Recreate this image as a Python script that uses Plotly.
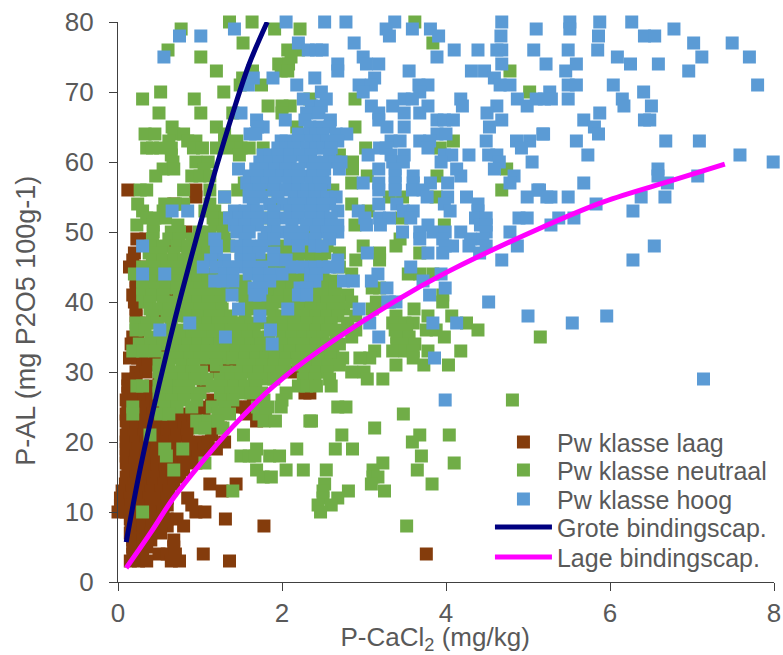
import plotly.graph_objects as go

brown_rows = {
56: [0.12, 0.95], 55: [0.95], 54: [0.68], 50: [0.83],
49: [0.23, 0.34], 48: [0.65], 47: [0.2], 46: [0.5, 0.72, 0.18], 45: [0.14, 0.2, 0.3, 0.5],
44: [0.73, 0.66], 43: [0.22], 42: [0.22], 41: [0.18, 0.62], 40: [0.22, 0.2], 39: [0.22, 0.57], 38: [0.22, 0.5],
37: [0.26], 36: [0.32], 35: [0.18, 0.24], 34: [0.16], 33: [0.58], 32: [0.14, 0.24, 0.33, 0.45, 0.53],
31: [0.3, 0.37, 1.08, 1.34, 1.46, 1.1], 30: [0.22, 0.34, 2.15, 1.2], 29: [0.12, 0.22, 0.5], 28: [0.12, 1.04, 0.4],
27: [0.12, 0.22, 0.33, 0.42, 2.28, 2.34], 26: [0.1, 0.2, 0.32, 0.42, 1.14, 1.65], 25: [0.12, 0.22, 0.36, 0.46, 1.04, 1.44, 1.55, 1.6],
24: [0.1, 0.2, 0.33, 0.43, 0.55, 0.65, 0.75, 0.9, 1.05, 1.57], 23: [0.1, 0.22, 0.3, 0.45, 0.55, 0.7, 0.8, 0.92, 1.69],
22: [0.12, 0.22, 0.33, 0.45, 0.6, 0.7, 0.8, 0.85, 1.14, 1.25], 21: [0.1, 0.2, 0.32, 0.48, 0.6, 0.72, 0.84, 1.14],
20: [0.1, 0.22, 0.34, 0.46, 0.58, 0.7, 0.86, 1.0, 1.1, 1.3], 19: [0.1, 0.24, 0.35, 0.48, 0.6, 0.75, 0.9, 1.05, 1.2],
18: [0.1, 0.22, 0.34, 0.46, 0.58, 0.72, 0.85, 0.98], 17: [0.1, 0.21, 0.36, 0.48, 0.6, 0.7, 0.8, 0.95],
16: [0.12, 0.24, 0.35, 0.47, 0.57, 0.7, 0.8], 15: [0.1, 0.22, 0.33, 0.45, 0.58, 0.66, 0.75],
14: [0.09, 0.2, 0.32, 0.43, 0.56, 0.68, 1.12, 1.44], 13: [0.05, 0.17, 0.28, 0.4, 0.52, 0.62, 1.27],
12: [0.03, 0.15, 0.26, 0.38, 0.5, 0.6, 0.85], 11: [0.03, 0.16, 0.27, 0.4, 0.5, 0.6, 0.9],
10: [0.0, 0.1, 0.22, 0.38, 0.46, 0.55, 0.95, 1.06], 9: [0.15, 0.27, 0.38, 0.5, 0.6, 0.72, 1.31],
8: [0.16, 0.3, 0.42, 0.52, 0.6, 0.8, 1.78], 7: [0.15, 0.3, 0.4, 0.52], 6: [0.18, 0.3, 0.4, 0.68],
5: [0.18, 0.3, 0.35, 0.68], 4: [0.18, 0.3, 0.5, 0.6, 0.7, 1.04, 3.76], 3: [0.15, 0.25, 0.35, 0.65, 0.75, 1.36],
}

green_rows = {
80: [1.36, 1.635, 3.62], 79: [0.77, 1.91, 2.22], 77: [1.525, 3.84], 76: [0.61, 2.07, 2.2], 75: [1.01, 2.11],
74: [1.96, 2.08], 73: [1.2, 1.64, 1.99, 2.07, 4.78], 72: [1.52], 71: [1.49, 1.75], 70: [0.52, 1.29, 5.02],
69: [0.3, 0.93, 2.89, 2.34], 68: [1.83, 2.1, 2.0], 67: [0.5, 1.01, 1.4, 2.0], 65: [0.66, 1.2, 2.18, 2.89],
64: [0.33, 0.45, 0.68, 0.8, 1.3], 63: [0.62, 0.85, 0.95, 1.3, 1.45, 4.09],
62: [0.35, 0.42, 0.52, 0.65, 0.92, 1.03, 1.2, 1.35, 1.5, 1.6, 1.77, 3.93, 3.02], 61: [0.65, 1.48, 2.7],
60: [0.67, 0.95, 1.1, 2.86], 59: [0.55, 0.68, 1.05, 2.86, 4.74], 58: [0.46, 0.9, 1.0, 1.12, 3.04, 3.89],
57: [1.54, 2.85], 56: [0.27, 0.35, 0.8, 1.12, 1.46, 1.85, 2.62, 4.68], 55: [1.3, 3.31, 3.47, 3.88],
54: [0.24, 0.57, 0.8, 0.7, 2.85, 1.12, 1.95], 53: [0.3, 0.55, 1.06, 1.18, 2.1, 3.05],
52: [0.35, 0.45, 0.58, 1.16, 1.3, 3.46, 1.8], 51: [0.23, 0.43, 0.73, 1.18, 1.3, 1.9, 2.89, 3.98],
50: [0.43, 0.65, 0.75, 0.99, 1.12, 1.28, 2.3], 49: [0.42, 0.62, 0.74, 0.9, 1.05, 1.2, 1.3, 2.4, 3.44],
48: [0.4, 0.55, 0.72, 0.85, 0.95, 1.05, 1.35, 1.9, 2.05, 2.35, 2.55, 2.99, 3.39],
47: [0.38, 0.52, 0.68, 0.85, 1.0, 1.1, 1.95, 2.1, 2.25, 2.4, 2.52, 2.7, 3.19, 3.68],
46: [0.42, 0.55, 0.68, 0.8, 0.95, 1.05, 1.18, 1.75, 2.2, 2.36, 2.48, 3.19, 2.9],
45: [0.3, 0.45, 0.6, 0.75, 0.88, 1.0, 1.9, 2.0, 2.7],
44: [0.2, 0.42, 0.72, 0.85, 0.98, 1.1, 1.2, 2.15, 2.25, 2.5, 2.85, 3.54, 3.68, 3.84],
43: [0.3, 0.42, 0.55, 0.7, 0.85, 0.98, 1.1, 1.55, 2.0, 2.12, 2.25, 2.52, 2.6],
42: [0.3, 0.45, 0.58, 0.72, 0.85, 1.0, 1.14, 1.25, 1.4, 1.55, 1.88, 2.02, 2.12, 2.4, 2.52, 2.65, 3.19, 3.1],
41: [0.3, 0.42, 0.55, 0.75, 0.88, 1.02, 1.15, 1.28, 1.52, 1.85, 1.98, 2.1, 2.4, 2.52, 2.65, 2.8, 3.96],
40: [0.33, 0.39, 0.55, 0.7, 0.85, 0.98, 1.1, 1.25, 1.55, 1.68, 1.8, 1.95, 2.1, 2.25, 2.4, 2.55, 2.7, 2.85, 3.15, 3.96],
39: [0.39, 0.5, 0.62, 0.75, 0.88, 1.0, 1.14, 1.27, 1.6, 1.75, 1.88, 2.2, 2.35, 2.5, 2.62, 2.75, 3.1, 3.61],
38: [0.42, 0.6, 0.72, 0.85, 0.98, 1.12, 1.25, 1.38, 1.55, 1.9, 2.0, 2.15, 2.28, 2.42, 2.55, 2.68, 2.9, 3.39, 3.78, 4.07],
37: [0.22, 0.35, 0.48, 0.65, 0.98, 1.1, 1.22, 1.36, 1.5, 1.62, 1.76, 1.9, 2.02, 2.15, 2.3, 2.45, 2.6, 2.8, 3.35, 3.5, 3.6, 4.25],
36: [0.22, 0.33, 0.62, 0.75, 0.88, 1.0, 1.14, 1.26, 1.38, 1.52, 1.66, 2.0, 2.15, 2.28, 2.42, 2.55, 2.7, 2.9, 3.38, 3.52, 3.76, 3.88, 4.39],
35: [0.4, 0.52, 0.65, 0.78, 0.9, 1.02, 1.16, 1.45, 1.58, 1.72, 1.84, 2.0, 2.12, 2.26, 2.38, 2.5, 2.66, 2.85, 3.4, 3.55, 3.98, 5.15],
34: [0.26, 0.4, 0.55, 0.72, 0.85, 0.98, 1.1, 1.24, 1.36, 1.5, 1.62, 1.74, 2.02, 2.15, 2.28, 2.42, 2.55, 2.7, 3.4, 3.52, 3.62],
33: [0.18, 0.3, 0.45, 0.7, 0.82, 0.95, 1.08, 1.2, 1.32, 1.44, 1.56, 1.7, 1.84, 1.96, 2.1, 2.24, 2.36, 2.5, 2.62, 3.13, 3.35, 3.5, 3.6, 3.78, 4.18],
32: [0.6, 0.75, 0.88, 1.0, 1.15, 1.28, 1.4, 1.55, 1.68, 1.8, 1.92, 2.05, 2.18, 2.3, 2.45, 2.6, 2.74, 3.07, 2.95, 3.6],
31: [0.5, 0.62, 0.78, 0.92, 1.2, 1.52, 1.64, 1.76, 1.9, 2.04, 2.2, 2.32, 2.44, 2.56, 2.7, 3.39, 3.73, 4.03],
30: [0.5, 0.64, 0.78, 0.9, 1.02, 1.32, 1.45, 1.6, 1.72, 1.85, 2.0, 2.28, 2.42, 2.55, 2.85, 3.0],
29: [0.52, 0.66, 0.8, 0.94, 1.08, 1.24, 1.38, 1.5, 1.66, 1.78, 1.9, 2.26, 2.4, 2.58, 3.04, 3.23],
28: [0.23, 0.3, 0.5, 0.62, 0.74, 0.86, 1.15, 1.28, 1.42, 1.55, 1.68, 2.2, 2.3, 2.42, 2.6],
27: [0.5, 0.62, 0.74, 0.86, 1.0, 1.25, 1.38, 1.5, 1.62, 1.75, 2.05],
26: [0.52, 0.66, 0.8, 0.96, 1.28, 1.4, 1.78, 2.0, 4.81],
25: [0.18, 0.58, 0.72, 0.9, 1.15, 1.3, 1.7, 1.83, 1.99, 2.68, 2.78],
24: [0.18, 0.52, 0.62, 1.22, 1.36, 1.72, 1.8, 3.48], 23: [0.96, 1.1, 1.22, 1.78, 1.92, 2.34, 2.36],
22: [1.0, 1.06, 1.28, 3.13], 21: [0.39, 1.53, 2.73, 3.68, 4.04], 20: [3.59],
19: [0.57, 0.79, 1.69, 2.18, 2.65, 2.86], 18: [0.59, 1.5, 1.6, 1.67, 1.85, 1.97, 3.7], 17: [1.06, 3.23, 4.1],
16: [0.68, 1.69, 2.05, 2.26, 2.54, 3.11, 3.65], 15: [1.77, 1.87, 3.11, 3.17], 14: [2.52, 3.09, 3.83],
13: [1.4, 2.5, 2.81, 3.25], 12: [2.5, 2.68], 11: [2.44, 2.6], 10: [0.3, 2.47], 8: [3.52],
}

blue_rows = {
80: [2.05, 2.52, 2.78, 3.375, 4.68, 5.51, 5.875, 6.265],
79: [1.42, 3.27, 3.59, 3.81, 5.1, 5.51, 6.78],
78: [0.75, 1.01, 3.31, 3.91, 4.67, 5.86, 6.42, 6.545],
77: [2.2, 2.88, 7.02, 7.49],
76: [2.32, 2.42, 2.49, 4.1, 4.39, 4.62, 4.68, 5.07, 5.49, 5.85],
75: [0.56, 2.99, 3.89, 6.09, 7.12, 7.7],
74: [2.68, 3.03, 3.18, 4.68, 5.22, 5.59, 6.25, 6.59],
73: [2.68, 3.55, 4.31, 4.47, 5.46, 6.96],
72: [1.65, 1.89, 2.4, 3.13, 4.59],
71: [1.59, 2.18, 2.94, 3.09, 3.67, 3.78, 4.66, 4.78, 5.49, 5.59, 6.04, 7.8],
70: [2.48, 2.99, 3.68, 5.265, 6.41],
69: [2.26, 2.54, 3.49, 3.59, 4.18, 4.87, 5.1, 5.2, 5.285, 5.49, 6.15],
68: [2.36, 2.48, 3.09, 3.35, 3.78, 4.2, 4.62, 4.99, 6.17, 6.505],
67: [1.5, 2.3, 2.45, 3.18, 3.49, 3.68, 4.5, 5.875],
66: [1.69, 2.04, 2.28, 2.59, 3.18, 3.89, 3.98, 4.09, 4.68, 5.68, 6.42, 6.485],
65: [1.77, 1.7, 2.34, 2.46, 2.58, 3.28, 3.49, 4.53, 5.81],
64: [1.61, 1.68, 2.2, 2.34, 2.42, 2.5, 2.66, 2.79, 3.89, 4.0, 5.18, 5.19, 5.86],
63: [1.99, 2.05, 2.2, 2.35, 2.45, 2.55, 2.68, 3.33, 3.44, 3.68, 3.8, 4.49, 4.86, 5.02, 5.59, 6.68, 7.09],
62: [1.95, 2.05, 2.15, 2.3, 2.42, 2.5, 2.6, 3.19, 3.27, 3.78, 4.92],
61: [1.77, 1.85, 1.95, 2.1, 2.22, 2.35, 2.58, 3.05, 3.33, 3.49, 3.98, 4.07, 4.28, 4.52, 4.62, 5.73, 7.585],
60: [1.73, 1.85, 1.96, 2.1, 2.28, 2.4, 2.52, 2.65, 2.72, 3.35, 3.48, 3.94, 4.65, 5.05, 7.99],
59: [1.47, 1.68, 1.8, 1.92, 2.05, 2.2, 2.38, 2.52, 2.7, 3.18, 3.38, 4.13, 4.59, 6.585],
58: [1.6, 1.75, 1.85, 2.0, 2.1, 2.25, 2.38, 2.5, 3.38, 3.6, 4.18, 4.83, 6.585, 7.07],
57: [1.57, 1.7, 1.82, 1.92, 2.08, 2.2, 2.35, 2.45, 2.52, 2.99, 3.18, 3.38, 3.6, 3.81, 4.02, 4.78, 5.68, 6.7],
56: [1.6, 1.72, 1.9, 2.05, 2.2, 2.3, 2.4, 2.47, 3.18, 3.38, 3.59, 3.72, 5.12, 5.14],
55: [1.3, 1.6, 1.75, 1.95, 2.15, 2.27, 2.4, 2.55, 2.66, 3.77, 4.02, 4.25, 4.99, 5.23, 5.28, 5.49, 6.38, 6.67],
54: [1.65, 1.85, 2.02, 2.15, 2.28, 2.38, 2.5, 2.58, 3.18, 3.4, 3.98, 4.39, 5.83],
53: [0.66, 0.85, 1.42, 1.55, 1.7, 1.9, 2.1, 2.2, 2.35, 2.5, 2.68, 2.93, 3.48, 3.6, 4.05, 4.39, 6.28],
52: [1.36, 1.48, 1.6, 1.75, 1.9, 2.05, 2.2, 2.35, 2.5, 2.6, 3.01, 3.19, 3.31, 3.57, 4.36, 4.49, 4.89, 4.99, 5.375, 5.56],
51: [1.42, 1.55, 1.7, 1.9, 2.12, 2.3, 2.45, 2.6, 2.68, 3.03, 3.2, 3.78, 4.42, 4.49, 5.28],
50: [1.45, 1.6, 1.82, 1.95, 2.1, 2.25, 2.42, 2.55, 2.68, 3.47, 3.68, 3.84, 3.99, 4.18, 4.49, 4.78],
49: [1.18, 1.55, 1.78, 1.9, 2.1, 2.25, 2.4, 2.58, 3.68, 3.96, 4.3, 4.45],
48: [0.3, 1.2, 1.45, 1.6, 1.75, 2.2, 2.4, 2.49, 3.99, 4.08, 4.28, 4.49, 4.87, 6.54],
47: [1.2, 1.5, 1.6, 1.72, 1.9, 3.04, 3.78, 3.96, 4.41],
46: [1.13, 1.3, 1.5, 1.6, 1.9, 2.05, 2.68, 4.68, 6.28],
45: [1.04, 1.2, 1.35, 1.45, 1.6, 1.75, 2.12, 2.25, 2.4, 2.5, 2.58, 2.68, 3.57],
44: [0.3, 0.57, 1.3, 1.4, 1.6, 1.72, 1.85, 2.0, 2.35, 2.42, 3.17, 3.94],
43: [1.18, 1.28, 1.4, 1.72, 1.85, 2.35, 2.4, 2.75, 2.87, 3.09, 3.72],
42: [1.66, 1.75, 2.22, 2.3, 3.28, 3.99],
41: [1.39, 1.67, 1.73, 2.2, 2.3, 3.8],
40: [3.29, 3.31, 3.39, 4.52], 39: [1.47, 2.07, 2.94], 38: [1.73, 5.0, 5.96], 37: [0.875, 3.07, 3.84, 4.13, 5.54],
36: [0.51, 1.86], 35: [1.31, 3.18], 34: [1.88], 32: [3.86], 29: [7.14], 26: [3.99],
}

navy_x = [0.1, 0.25, 0.39, 0.63, 0.77, 1.0, 1.2, 1.4, 1.6, 1.82]
navy_y = [5.7, 15, 22.6, 34.5, 41, 51, 59.3, 67, 74, 80]
magenta_x = [0.1, 0.39, 0.67, 1.0, 1.4, 1.89, 2.46, 3.39, 4.0, 5.14, 5.92, 6.77, 7.4]
magenta_y = [2, 6.9, 11.9, 16.8, 22.2, 27.9, 33.1, 40.2, 44.2, 50.5, 54.3, 57.4, 59.7]

def unroll(rows):
    xs, ys = [], []
    for yv, vals in rows.items():
        for xv in vals:
            xs.append(xv)
            ys.append(yv)
    return xs, ys

TXT = "#595959"
FONT = "Liberation Sans"
fig = go.Figure()
for name, rows, col, lg in [("Pw klasse laag", brown_rows, "#843C0C", "legend"),
                            ("Pw klasse neutraal", green_rows, "#70AD47", "legend2"),
                            ("Pw klasse hoog", blue_rows, "#5B9BD5", "legend3")]:
    xs, ys = unroll(rows)
    fig.add_trace(go.Scatter(x=xs, y=ys, mode="markers", name=name, cliponaxis=False, legend=lg,
                             marker=dict(symbol="square", size=13, color=col)))
fig.add_trace(go.Scatter(x=navy_x, y=navy_y, mode="lines", name="Grote bindingscap.", legend="legend4",
                         line=dict(color="#000080", width=5, shape="spline")))
fig.add_trace(go.Scatter(x=magenta_x, y=magenta_y, mode="lines", name="Lage bindingscap.", legend="legend5",
                         line=dict(color="#FF00FF", width=5, shape="spline")))

axis = dict(showgrid=False, zeroline=False, showline=True, linecolor="#404040", linewidth=1.3,
            ticks="outside", ticklen=8, tickcolor="#404040", tickwidth=1.3, automargin=False,
            tickfont=dict(family=FONT, size=26, color=TXT))

def legend_at(row_px):
    return dict(x=0.567, xanchor="left", y=(581.7 - row_px) / 560, yanchor="middle",
                bgcolor="rgba(0,0,0,0)", font=dict(family=FONT, size=25, color=TXT),
                itemwidth=57, tracegroupgap=0)

fig.update_layout(
    width=783, height=655, paper_bgcolor="white", plot_bgcolor="rgba(0,0,0,0)",
    margin=dict(l=118, r=9, t=22, b=73),
    xaxis=dict(range=[0, 8], dtick=2,
               title=dict(text="P-CaCl<sub>2</sub> (mg/kg)\u00a0\u00a0\u00a0\u200b", standoff=7,
                          font=dict(family=FONT, size=26, color=TXT)), **axis),
    yaxis=dict(range=[0, 80], dtick=10, ticklabelstandoff=10,
               title=dict(text="P-AL (mg P2O5 100g-1)\u00a0\u00a0\u00a0\u00a0\u00a0\u200b", standoff=21,
                          font=dict(family=FONT, size=27, color=TXT)), **axis),
    legend=legend_at(442), legend2=legend_at(470), legend3=legend_at(499),
    legend4=legend_at(527), legend5=legend_at(557),
    showlegend=True,
)
fig.write_html("out.html", post_script="document.body.style.margin='0';",
               config=dict(displayModeBar=False))
